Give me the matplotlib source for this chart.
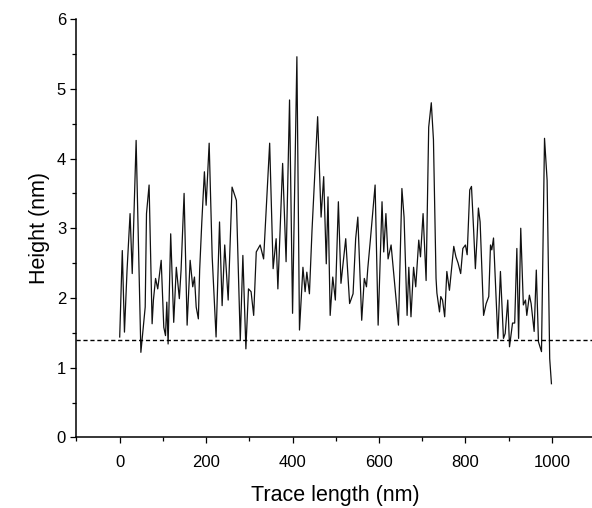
import matplotlib
matplotlib.use('Agg')
from matplotlib import pyplot as plt
from matplotlib.ticker import MultipleLocator

plt.rcParams['font.family'] = ['Liberation Sans', 'DejaVu Sans']

# height profile
trace_nm = [0, 6, 11, 17, 24, 29, 38, 49, 59, 62, 68, 75, 78, 83, 88, 96,
            102, 106, 109, 112, 118, 125, 131, 138, 142, 149, 156, 163, 169,
            173, 177, 182, 185, 190, 196, 200, 207, 214, 223, 231, 237, 243,
            251, 260, 270, 279, 285, 292, 298, 304, 310, 316, 325, 333, 347,
            355, 362, 366, 377, 385, 393, 400, 410, 416, 424, 429, 433, 439,
            445, 458, 466, 472, 478, 482, 487, 493, 499, 506, 512, 523, 532,
            540, 546, 551, 560, 566, 571, 574, 580, 591, 598, 607, 611, 616,
            621, 628, 634, 645, 653, 658, 665, 669, 674, 680, 685, 692, 696,
            702, 709, 715, 721, 726, 732, 734, 740, 743, 747, 752, 757, 763,
            773, 778, 783, 789, 794, 800, 804, 810, 814, 819, 823, 827, 830,
            834, 842, 848, 854, 858, 861, 865, 873, 875, 881, 888, 892, 898,
            902, 909, 914, 919, 923, 928, 934, 939, 942, 948, 952, 959, 964,
            969, 976, 983, 989, 995, 999]
height = [1.44, 2.68, 1.51, 2.40, 3.21, 2.35, 4.26, 1.22, 1.87, 3.21, 3.62,
          1.63, 1.97, 2.28, 2.13, 2.54, 1.58, 1.46, 1.94, 1.34, 2.92, 1.65,
          2.44, 1.99, 2.40, 3.50, 1.61, 2.54, 2.16, 2.30, 1.87, 1.70, 2.40,
          3.09, 3.81, 3.33, 4.22, 2.59, 1.44, 3.09, 1.89, 2.76, 1.97, 3.59,
          3.40, 1.39, 2.61, 1.27, 2.13, 2.09, 1.75, 2.66, 2.76, 2.56, 4.22,
          2.42, 2.85, 2.13, 3.93, 2.52, 4.84, 1.78, 5.46, 1.54, 2.44, 2.09,
          2.37, 2.06, 2.97, 4.60, 3.16, 3.74, 2.49, 3.45, 1.75, 2.30, 1.97,
          3.38, 2.21, 2.85, 1.92, 2.06, 2.85, 3.16, 1.68, 2.28, 2.16, 2.42,
          2.83, 3.62, 1.61, 3.38, 2.66, 3.21, 2.56, 2.76, 2.35, 1.61, 3.57,
          3.16, 1.75, 2.44, 1.73, 2.44, 2.16, 2.83, 2.59, 3.21, 2.25, 4.45,
          4.80, 4.27, 2.28, 2.07, 1.80, 2.02, 1.97, 1.73, 2.38, 2.11, 2.74,
          2.59, 2.50, 2.35, 2.71, 2.76, 2.62, 3.55, 3.60, 2.97, 2.42, 2.88,
          3.29, 3.09, 1.75, 1.92, 2.02, 2.76, 2.69, 2.86, 1.71, 1.42, 2.38,
          1.42, 1.49, 1.97, 1.30, 1.64, 1.64, 2.71, 1.42, 3.00, 1.90, 1.97,
          1.75, 2.04, 1.92, 1.52, 2.40, 1.37, 1.23, 4.29, 3.69, 1.13, 0.77]
baseline = 1.4

fig = plt.figure(figsize=(5.92, 5.08), dpi=100)
ax = fig.add_axes([0.1292, 0.139, 0.876, 0.8234])

ax.plot(trace_nm, height, color='#111111', linewidth=0.9)
ax.axhline(baseline, color='black', linewidth=1.0, linestyle=(0, (3, 2)))

ax.set_xlim(-100, 1100)
ax.set_ylim(0, 6)
ax.xaxis.set_major_locator(MultipleLocator(200))
ax.xaxis.set_minor_locator(MultipleLocator(100))
ax.yaxis.set_major_locator(MultipleLocator(1))
ax.yaxis.set_minor_locator(MultipleLocator(0.5))

for side in ['top', 'right']:
    ax.spines[side].set_visible(False)
for side in ['left', 'bottom']:
    ax.spines[side].set_linewidth(1.1)

ax.tick_params(which='major', direction='out', length=4.5, width=0.9,
               labelsize=12)
ax.tick_params(which='minor', direction='out', length=3, width=0.9)
ax.tick_params(axis='x', which='major', pad=8)
ax.tick_params(axis='y', which='major', pad=3)

ax.set_xlabel('Trace length (nm)', fontsize=15.5, labelpad=11)
ax.set_ylabel('Height (nm)', fontsize=15.5, labelpad=5)

fig.savefig('out.png', dpi=100)
